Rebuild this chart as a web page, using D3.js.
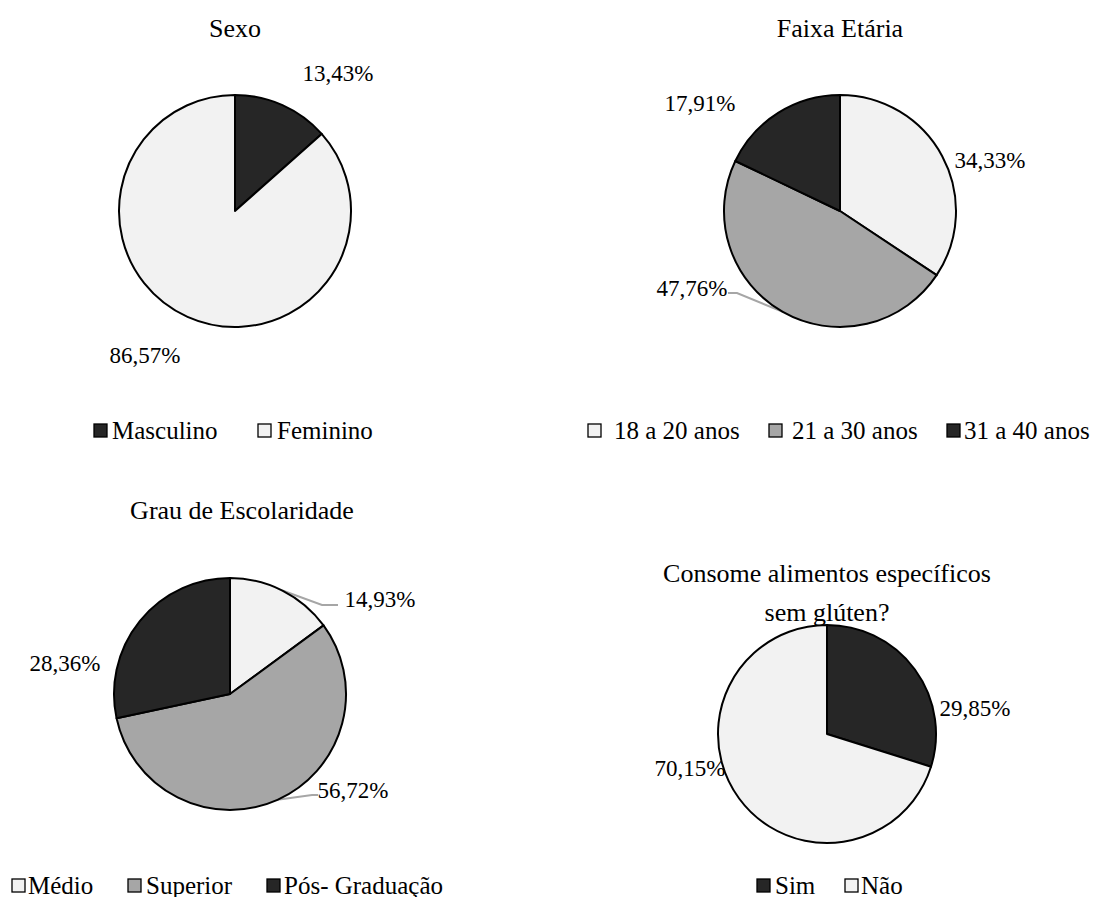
<!DOCTYPE html>
<html>
<head>
<meta charset="utf-8">
<script src="https://cdn.jsdelivr.net/npm/d3@7"></script>
<style>
  html, body { margin: 0; padding: 0; background: #ffffff; }
</style>
</head>
<body>
<svg id="chart" width="1108" height="897"></svg>
<script>
// Sexo
const sexoCategories = ["Masculino", "Feminino"];
const sexoValues = [13.43, 86.57];

// Faixa Etária
const idadeCategories = ["18 a 20 anos", "21 a 30 anos", "31 a 40 anos"];
const idadeValues = [34.33, 47.76, 17.91];

// Grau de Escolaridade
const escolaridadeCategories = ["Médio", "Superior", "Pós- Graduação"];
const escolaridadeValues = [14.93, 56.72, 28.36];

// Consome alimentos específicos sem glúten?
const glutenCategories = ["Sim", "Não"];
const glutenValues = [29.85, 70.15];

const LIGHT = "#f2f2f2", GRAY = "#a6a6a6", DARK = "#262626";
const SERIF = "'Liberation Serif', 'Times New Roman', Times, serif";

const svg = d3.select("#chart");

const fmt = v => v.toFixed(2).replace(".", ",") + "%";

// Panel layout: pie centre and radius, title lines, label offsets from the centre,
// leader lines (fraction along the slice's arc where the line starts, then bend and end
// points relative to the centre), legend row.
const panels = [
  {
    title: ["Sexo"], titleX: 235, titleY: [28],
    cx: 235, cy: 211, r: 116,
    categories: sexoCategories, values: sexoValues, colors: [DARK, LIGHT],
    labels: [ { dx: 103, dy: -138 }, { dx: -90, dy: 144 } ],
    leaders: [null, null],
    legendY: 430,
    boxX: [94, 258], textX: [112, 277]
  },
  {
    title: ["Faixa Etária"], titleX: 840, titleY: [28],
    cx: 840, cy: 211, r: 116,
    categories: idadeCategories, values: idadeValues, colors: [LIGHT, GRAY, DARK],
    labels: [ { dx: 150, dy: -51 }, { dx: -148, dy: 77 }, { dx: -140, dy: -108 } ],
    leaders: [null, { t: 0.50, mx: -103, my: 82, ex: -112, ey: 82 }, null],
    legendY: 430,
    boxX: [588, 769, 947], textX: [614, 792, 964]
  },
  {
    title: ["Grau de Escolaridade"], titleX: 242, titleY: [510],
    cx: 230, cy: 694, r: 116,
    categories: escolaridadeCategories, values: escolaridadeValues, colors: [LIGHT, GRAY, DARK],
    labels: [ { dx: 150, dy: -95 }, { dx: 123, dy: 96 }, { dx: -165, dy: -31 } ],
    leaders: [ { t: 0.50, mx: 92, my: -89, ex: 108, ey: -89 }, { t: 0.50, mx: 82, my: 101, ex: 88, ey: 101 }, null ],
    legendY: 885,
    boxX: [12, 128, 267], textX: [28, 146, 284]
  },
  {
    title: ["Consome alimentos específicos", "sem glúten?"], titleX: 827, titleY: [573, 612],
    cx: 827, cy: 734, r: 109,
    categories: glutenCategories, values: glutenValues, colors: [DARK, LIGHT],
    labels: [ { dx: 148, dy: -26 }, { dx: -137, dy: 34 } ],
    leaders: [null, null],
    legendY: 885,
    boxX: [757, 845], textX: [775, 861]
  }
];

panels.forEach(p => {
  const g = svg.append("g");

  // title
  p.title.forEach((line, i) => {
    g.append("text")
      .attr("x", p.titleX).attr("y", p.titleY[i])
      .attr("text-anchor", "middle")
      .attr("dominant-baseline", "central")
      .style("font-family", SERIF)
      .style("font-size", "26px")
      .attr("fill", "#000")
      .text(line);
  });

  const data = p.categories.map((c, i) => ({ category: c, value: p.values[i], color: p.colors[i] }));
  const pie = d3.pie().value(d => d.value).sort(null);
  const arc = d3.arc().innerRadius(0).outerRadius(p.r);
  const arcs = pie(data);

  const pg = g.append("g").attr("transform", `translate(${p.cx},${p.cy})`);

  pg.selectAll("path.slice")
    .data(arcs)
    .join("path")
    .attr("class", "slice")
    .attr("d", arc)
    .attr("fill", d => d.data.color)
    .attr("stroke", "#000")
    .attr("stroke-width", 2)
    .attr("stroke-linejoin", "round");

  // leader lines from the slice's rim to its label
  arcs.forEach((a, i) => {
    const ld = p.leaders[i];
    if (!ld) return;
    const ang = a.startAngle + (a.endAngle - a.startAngle) * ld.t;
    const rx = Math.sin(ang) * p.r, ry = -Math.cos(ang) * p.r;
    pg.insert("polyline", "path.slice")
      .attr("points", `${rx},${ry} ${ld.mx},${ld.my} ${ld.ex},${ld.ey}`)
      .attr("fill", "none")
      .attr("stroke", "#a6a6a6")
      .attr("stroke-width", 2);
  });

  // value labels
  arcs.forEach((a, i) => {
    const l = p.labels[i];
    pg.append("text")
      .attr("x", l.dx).attr("y", l.dy)
      .attr("text-anchor", "middle")
      .attr("dominant-baseline", "central")
      .style("font-family", SERIF)
      .style("font-size", "23px")
      .attr("fill", "#000")
      .text(fmt(a.data.value));
  });

  // legend
  const lg = g.append("g");
  data.forEach((d, i) => {
    lg.append("rect")
      .attr("x", p.boxX[i]).attr("y", p.legendY - 6)
      .attr("width", 13).attr("height", 13)
      .attr("fill", d.color)
      .attr("stroke", "#000")
      .attr("stroke-width", 1.3);
    lg.append("text")
      .attr("x", p.textX[i]).attr("y", p.legendY)
      .attr("dominant-baseline", "central")
      .style("font-family", SERIF)
      .style("font-size", "25px")
      .attr("fill", "#000")
      .text(d.category);
  });
});
</script>
</body>
</html>
